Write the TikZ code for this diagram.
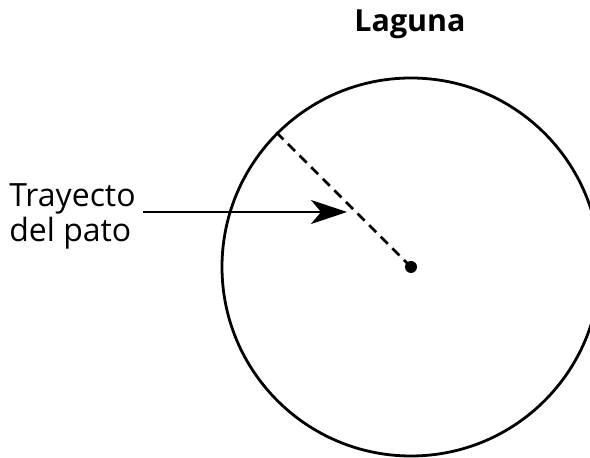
\documentclass[tikz,border=0pt]{standalone}
\usepackage{fontspec}
\setmainfont{Open Sans}
\usetikzlibrary{arrows.meta, positioning, calc}

\begin{document}
\begin{tikzpicture}[x=0.5pt, y=-0.5pt,
    pond/.style={draw, circle, line width=1.4pt, minimum size=189pt, inner sep=0pt},
    path/.style={line width=1.4pt, dash pattern=on 5pt off 3.2pt},
    label/.style={font=\fontsize{16}{17.5}\selectfont, inner sep=0pt, align=left},
    pointer/.style={-{Stealth[length=18pt, width=12pt, inset=5pt]}, line width=1pt}]
  \useasboundingbox (0,0) rectangle (590,458);

  \coordinate (center) at (411,267);
  \node[pond] (laguna) at (center) {};
  \node[font=\bfseries\fontsize{15.2}{18}\selectfont, anchor=base] (title) at (410,32) {Laguna};

  % duck path from the middle out to the shore
  \draw[path] (center) -- (laguna.135);
  \fill (center) circle[radius=6];

  \node[label, anchor=east] (trayecto) at (136,216) {Trayecto\\del pato};
  \coordinate (tip) at (347,212);
  \draw[pointer] ($(trayecto.east)+(7,-4)$) -- (tip);
\end{tikzpicture}
\end{document}
